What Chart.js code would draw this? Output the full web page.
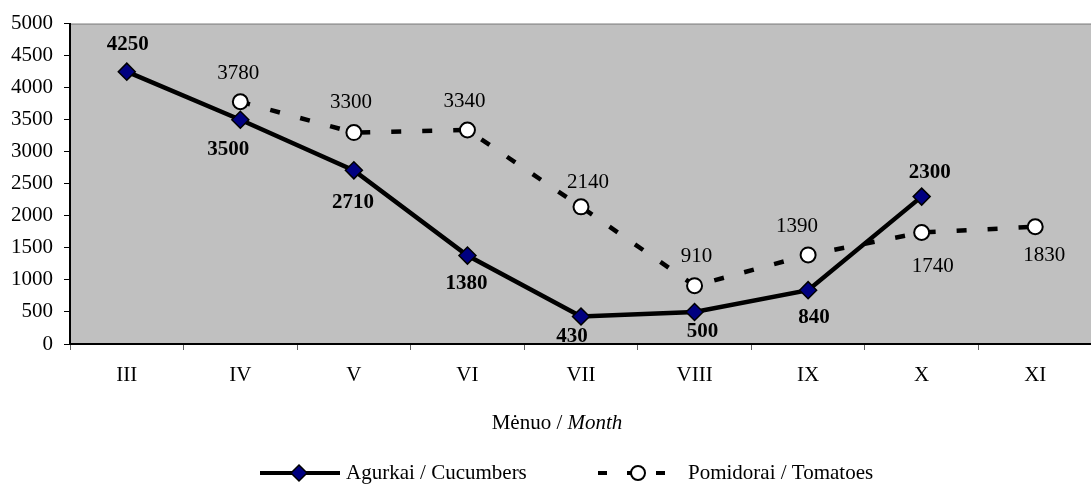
<!DOCTYPE html>
<html>
<head>
<meta charset="utf-8">
<script src="https://cdn.jsdelivr.net/npm/chart.js@4.4.1/dist/chart.umd.min.js"></script>
<style>
  html, body { margin: 0; padding: 0; background: #fff; overflow: hidden; }
  canvas { display: block; }
</style>
</head>
<body>
<canvas id="chart" width="1102" height="484"></canvas>
<script>
// chart data
const months = ['III', 'IV', 'V', 'VI', 'VII', 'VIII', 'IX', 'X', 'XI'];
const cucumbers = [4250, 3500, 2710, 1380, 430, 500, 840, 2300, null];
const tomatoes = [null, 3780, 3300, 3340, 2140, 910, 1390, 1740, 1830];
const yTicks = [0, 500, 1000, 1500, 2000, 2500, 3000, 3500, 4000, 4500, 5000];

// where each value label sits, relative to its point (like the hand placed excel labels)
const cucLabelOffsets = [[1, -27], [-12, 30], [-1, 32], [-1, 28], [-9, 20], [8, 20], [6, 27], [8, -24], [0, 0]];
const tomLabelOffsets = [[0, 0], [-2, -28], [-3, -30], [-3, -28], [7, -24], [2, -29], [-11, -28], [11, 34], [9, 29]];

const FONT = '"Liberation Serif", "Times New Roman", serif';

const plotBg = {
  id: 'plotBg',
  beforeDraw(chart) {
    const { ctx, chartArea: a } = chart;
    ctx.save();
    ctx.fillStyle = '#c0c0c0';
    ctx.fillRect(a.left, a.top, a.right - a.left, a.bottom - a.top);
    ctx.strokeStyle = '#808080';
    ctx.lineWidth = 1;
    ctx.beginPath();
    ctx.moveTo(a.left, a.top + 0.5);
    ctx.lineTo(a.right, a.top + 0.5);
    ctx.stroke();
    ctx.restore();
  }
};

const valueLabels = {
  id: 'valueLabels',
  afterDatasetsDraw(chart) {
    const ctx = chart.ctx;
    ctx.save();
    ctx.textAlign = 'center';
    ctx.textBaseline = 'middle';
    ctx.fillStyle = '#000';
    chart.data.datasets.forEach((ds, i) => {
      const meta = chart.getDatasetMeta(i);
      const offs = ds.labelOffsets;
      ctx.font = (ds.labelBold ? 'bold ' : '') + '21px ' + FONT;
      meta.data.forEach((pt, j) => {
        const v = ds.data[j];
        if (v === null || v === undefined) return;
        ctx.fillText(String(v), pt.x + offs[j][0], pt.y + offs[j][1]);
      });
    });
    ctx.restore();
  }
};

// axis title with italic part + legend drawn by hand
const extras = {
  id: 'extras',
  afterDraw(chart) {
    const ctx = chart.ctx;
    ctx.save();
    ctx.fillStyle = '#000';
    ctx.textBaseline = 'middle';

    // x axis title "Mėnuo / Month"
    const p1 = 'Mėnuo / ';
    const p2 = 'Month';
    ctx.font = '21px ' + FONT;
    const w1 = ctx.measureText(p1).width;
    ctx.font = 'italic 21px ' + FONT;
    const w2 = ctx.measureText(p2).width;
    let x = 557 - (w1 + w2) / 2;
    const ty = 423;
    ctx.font = '21px ' + FONT;
    ctx.textAlign = 'left';
    ctx.fillText(p1, x, ty);
    ctx.font = 'italic 21px ' + FONT;
    ctx.fillText(p2, x + w1, ty);

    // legend
    const ly = 473;
    ctx.strokeStyle = '#000';
    ctx.lineWidth = 4;
    ctx.beginPath();
    ctx.moveTo(260, ly);
    ctx.lineTo(340, ly);
    ctx.stroke();
    ctx.beginPath();
    ctx.moveTo(299, ly - 8);
    ctx.lineTo(307, ly);
    ctx.lineTo(299, ly + 8);
    ctx.lineTo(291, ly);
    ctx.closePath();
    ctx.fillStyle = '#000080';
    ctx.fill();
    ctx.lineWidth = 1.5;
    ctx.stroke();

    ctx.lineWidth = 4;
    ctx.setLineDash([9, 20]);
    ctx.beginPath();
    ctx.moveTo(598, ly);
    ctx.lineTo(670, ly);
    ctx.stroke();
    ctx.setLineDash([]);
    ctx.beginPath();
    ctx.arc(638, ly, 7, 0, Math.PI * 2);
    ctx.fillStyle = '#fff';
    ctx.fill();
    ctx.lineWidth = 2;
    ctx.stroke();

    ctx.fillStyle = '#000';
    ctx.font = '21px ' + FONT;
    ctx.fillText('Agurkai / Cucumbers', 346, ly);
    ctx.fillText('Pomidorai / Tomatoes', 688, ly);
    ctx.restore();
  }
};

new Chart(document.getElementById('chart'), {
  type: 'line',
  data: {
    labels: months,
    datasets: [
      {
        label: 'Agurkai / Cucumbers',
        data: cucumbers,
        borderColor: '#000',
        borderWidth: 4.5,
        pointStyle: 'rectRot',
        pointRadius: 8.5,
        pointBackgroundColor: '#000080',
        pointBorderColor: '#000',
        pointBorderWidth: 1.5,
        tension: 0,
        order: 1,
        labelBold: true,
        labelOffsets: cucLabelOffsets
      },
      {
        label: 'Pomidorai / Tomatoes',
        data: tomatoes,
        borderColor: '#000',
        borderWidth: 4.5,
        borderDash: [10, 21],
        pointStyle: 'circle',
        pointRadius: 7.5,
        pointBackgroundColor: '#fff',
        pointBorderColor: '#000',
        pointBorderWidth: 2,
        tension: 0,
        order: 0,
        labelBold: false,
        labelOffsets: tomLabelOffsets
      }
    ]
  },
  options: {
    responsive: false,
    animation: false,
    layout: { padding: { top: 23, right: 1, left: 0, bottom: 0 } },
    plugins: {
      legend: { display: false },
      tooltip: { enabled: false }
    },
    scales: {
      x: {
        offset: true,
        grid: { drawOnChartArea: false, offset: true, tickLength: 6, color: '#606060', lineWidth: 1 },
        border: { color: '#000', width: 2 },
        ticks: { color: '#000', font: { family: FONT, size: 21 }, padding: 13, maxRotation: 0 },
        afterFit: (s) => { s.height = 140; }
      },
      y: {
        min: 0,
        max: 5000,
        afterBuildTicks: (s) => { s.ticks = yTicks.map(v => ({ value: v })); },
        grid: { drawOnChartArea: false, tickLength: 6, color: '#000', lineWidth: 1 },
        border: { color: '#000', width: 2 },
        ticks: { color: '#000', font: { family: FONT, size: 21 }, padding: 11, callback: (v) => String(v) },
        afterFit: (s) => { s.width = 70; }
      }
    }
  },
  plugins: [plotBg, valueLabels, extras]
});
</script>
</body>
</html>
